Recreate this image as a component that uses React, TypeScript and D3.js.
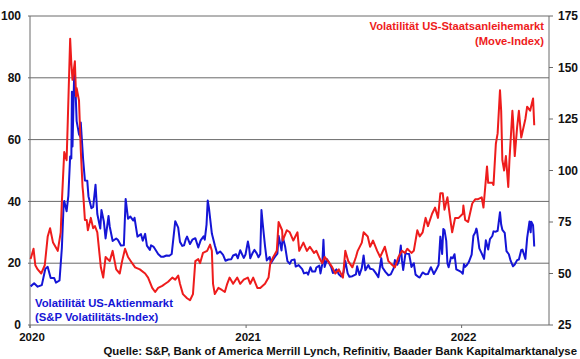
import React from "react";
import * as d3 from "d3";

// VIX (left axis)
const vixData: [string, number][] = [
  ["2020-01-02", 12.5], ["2020-01-08", 13.5], ["2020-01-14", 12.4], ["2020-01-21", 12.9], ["2020-01-27", 18.2], ["2020-01-31", 18.8],
  ["2020-02-05", 15.2], ["2020-02-11", 15.2], ["2020-02-14", 13.7], ["2020-02-20", 14.4], ["2020-02-24", 25.0], ["2020-02-27", 39.2],
  ["2020-02-28", 40.1], ["2020-03-03", 36.8], ["2020-03-06", 41.9], ["2020-03-09", 54.5], ["2020-03-11", 53.9], ["2020-03-12", 75.5],
  ["2020-03-13", 57.8], ["2020-03-16", 82.7], ["2020-03-17", 75.9], ["2020-03-18", 76.5], ["2020-03-20", 66.0], ["2020-03-24", 61.7],
  ["2020-03-26", 61.0], ["2020-03-27", 65.5], ["2020-03-31", 53.5], ["2020-04-03", 46.8], ["2020-04-07", 46.7], ["2020-04-09", 41.7],
  ["2020-04-14", 37.8], ["2020-04-17", 38.2], ["2020-04-21", 45.4], ["2020-04-24", 35.9], ["2020-04-29", 31.2], ["2020-05-01", 37.2],
  ["2020-05-05", 33.6], ["2020-05-08", 28.0], ["2020-05-13", 35.3], ["2020-05-15", 31.9], ["2020-05-20", 27.2], ["2020-05-26", 28.0],
  ["2020-05-29", 27.5], ["2020-06-03", 25.7], ["2020-06-08", 25.8], ["2020-06-11", 40.8], ["2020-06-15", 34.4], ["2020-06-19", 35.1],
  ["2020-06-24", 33.8], ["2020-06-26", 34.7], ["2020-07-01", 28.6], ["2020-07-07", 29.4], ["2020-07-10", 27.3], ["2020-07-14", 29.5],
  ["2020-07-17", 25.7], ["2020-07-22", 24.3], ["2020-07-24", 25.8], ["2020-07-28", 25.4], ["2020-07-31", 24.5], ["2020-08-05", 23.0],
  ["2020-08-10", 22.1], ["2020-08-14", 22.1], ["2020-08-19", 22.5], ["2020-08-24", 22.4], ["2020-08-28", 23.0], ["2020-09-03", 33.6],
  ["2020-09-08", 31.5], ["2020-09-11", 26.9], ["2020-09-15", 25.6], ["2020-09-18", 25.8], ["2020-09-21", 27.8], ["2020-09-23", 28.6],
  ["2020-09-28", 26.2], ["2020-10-02", 27.6], ["2020-10-07", 28.1], ["2020-10-12", 25.1], ["2020-10-16", 27.4], ["2020-10-21", 28.7],
  ["2020-10-23", 27.6], ["2020-10-26", 32.5], ["2020-10-28", 40.3], ["2020-10-30", 38.0], ["2020-11-04", 29.6], ["2020-11-09", 25.8],
  ["2020-11-13", 23.1], ["2020-11-18", 23.8], ["2020-11-23", 22.7], ["2020-11-27", 20.8], ["2020-12-02", 21.2], ["2020-12-07", 21.3],
  ["2020-12-10", 22.5], ["2020-12-15", 22.9], ["2020-12-18", 21.6], ["2020-12-22", 24.2], ["2020-12-28", 21.7], ["2020-12-31", 22.8],
  ["2021-01-04", 27.0], ["2021-01-06", 25.1], ["2021-01-08", 21.6], ["2021-01-12", 23.3], ["2021-01-15", 24.3], ["2021-01-19", 23.2],
  ["2021-01-22", 21.9], ["2021-01-25", 23.0], ["2021-01-27", 37.2], ["2021-01-29", 33.1], ["2021-02-02", 25.6], ["2021-02-05", 20.9],
  ["2021-02-10", 22.0], ["2021-02-12", 20.0], ["2021-02-17", 21.5], ["2021-02-19", 22.1], ["2021-02-23", 23.1], ["2021-02-25", 28.9],
  ["2021-02-26", 28.0], ["2021-03-02", 24.1], ["2021-03-04", 28.6], ["2021-03-08", 25.5], ["2021-03-12", 20.7], ["2021-03-16", 19.8],
  ["2021-03-19", 21.0], ["2021-03-24", 21.2], ["2021-03-26", 18.9], ["2021-03-31", 19.4], ["2021-04-06", 18.1], ["2021-04-09", 16.7],
  ["2021-04-14", 17.0], ["2021-04-16", 16.3], ["2021-04-20", 18.7], ["2021-04-23", 17.3], ["2021-04-28", 17.3], ["2021-04-30", 18.6],
  ["2021-05-05", 19.2], ["2021-05-07", 16.7], ["2021-05-10", 19.7], ["2021-05-12", 27.6], ["2021-05-14", 18.8], ["2021-05-18", 21.3],
  ["2021-05-21", 20.2], ["2021-05-25", 18.8], ["2021-05-28", 16.8], ["2021-06-03", 18.0], ["2021-06-07", 16.4], ["2021-06-11", 15.7],
  ["2021-06-15", 17.0], ["2021-06-18", 20.7], ["2021-06-22", 16.7], ["2021-06-25", 15.6], ["2021-06-30", 15.8], ["2021-07-06", 16.4],
  ["2021-07-08", 19.0], ["2021-07-12", 16.2], ["2021-07-16", 18.5], ["2021-07-19", 22.5], ["2021-07-22", 17.7], ["2021-07-27", 19.4],
  ["2021-07-30", 18.2], ["2021-08-04", 18.0], ["2021-08-09", 16.7], ["2021-08-13", 15.5], ["2021-08-18", 21.6], ["2021-08-20", 18.6],
  ["2021-08-25", 17.2], ["2021-08-30", 16.1], ["2021-09-03", 16.4], ["2021-09-08", 18.4], ["2021-09-10", 21.0], ["2021-09-14", 19.5],
  ["2021-09-17", 20.8], ["2021-09-20", 25.7], ["2021-09-22", 20.9], ["2021-09-24", 17.8], ["2021-09-28", 23.3], ["2021-09-30", 23.1],
  ["2021-10-04", 23.0], ["2021-10-06", 21.0], ["2021-10-08", 18.8], ["2021-10-12", 20.0], ["2021-10-15", 16.3], ["2021-10-20", 15.5],
  ["2021-10-22", 15.4], ["2021-10-27", 17.0], ["2021-11-01", 16.4], ["2021-11-05", 16.5], ["2021-11-10", 18.7], ["2021-11-15", 16.5],
  ["2021-11-19", 17.9], ["2021-11-23", 19.4], ["2021-11-26", 28.6], ["2021-11-29", 23.0], ["2021-11-30", 27.2], ["2021-12-01", 31.1],
  ["2021-12-03", 30.7], ["2021-12-06", 27.2], ["2021-12-08", 19.9], ["2021-12-10", 18.7], ["2021-12-14", 21.9], ["2021-12-17", 21.6],
  ["2021-12-20", 22.9], ["2021-12-23", 18.0], ["2021-12-28", 17.5], ["2021-12-31", 17.2], ["2022-01-03", 16.6], ["2022-01-05", 19.7],
  ["2022-01-07", 18.8], ["2022-01-10", 19.4], ["2022-01-13", 20.3], ["2022-01-18", 22.8], ["2022-01-21", 28.9], ["2022-01-24", 29.9],
  ["2022-01-26", 31.2], ["2022-01-27", 30.5], ["2022-01-31", 24.8], ["2022-02-04", 23.2], ["2022-02-08", 21.4], ["2022-02-11", 27.4],
  ["2022-02-15", 24.4], ["2022-02-18", 27.8], ["2022-02-22", 28.8], ["2022-02-24", 30.3], ["2022-02-28", 30.2], ["2022-03-03", 30.5],
  ["2022-03-07", 36.5], ["2022-03-09", 32.5], ["2022-03-11", 30.8], ["2022-03-15", 29.8], ["2022-03-18", 23.9], ["2022-03-22", 22.9],
  ["2022-03-25", 20.8], ["2022-03-29", 19.0], ["2022-04-01", 19.6], ["2022-04-05", 21.0], ["2022-04-08", 21.2], ["2022-04-12", 24.3],
  ["2022-04-14", 24.4], ["2022-04-19", 21.4], ["2022-04-22", 28.2], ["2022-04-26", 33.5], ["2022-04-28", 30.0], ["2022-04-29", 33.4],
  ["2022-05-02", 32.3], ["2022-05-03", 29.3], ["2022-05-04", 25.4],
];

// MOVE index (right axis)
const moveData: [string, number][] = [
  ["2020-01-02", 57], ["2020-01-07", 62], ["2020-01-10", 54], ["2020-01-14", 52], ["2020-01-20", 50], ["2020-01-26", 54],
  ["2020-01-31", 68], ["2020-02-04", 72], ["2020-02-09", 65], ["2020-02-17", 61], ["2020-02-22", 70], ["2020-02-24", 85],
  ["2020-02-28", 109], ["2020-03-03", 105], ["2020-03-05", 124], ["2020-03-09", 164], ["2020-03-11", 152], ["2020-03-13", 144],
  ["2020-03-17", 153], ["2020-03-19", 136], ["2020-03-20", 140], ["2020-03-24", 134], ["2020-03-27", 110], ["2020-03-30", 92],
  ["2020-03-31", 89], ["2020-04-03", 76], ["2020-04-06", 76], ["2020-04-08", 71], ["2020-04-13", 77], ["2020-04-17", 72],
  ["2020-04-20", 73], ["2020-04-24", 70], ["2020-04-30", 53], ["2020-05-04", 48], ["2020-05-08", 58], ["2020-05-15", 56],
  ["2020-05-20", 61], ["2020-05-26", 52], ["2020-06-01", 50], ["2020-06-05", 56], ["2020-06-10", 62], ["2020-06-15", 58],
  ["2020-06-22", 55], ["2020-06-27", 53], ["2020-07-05", 52], ["2020-07-14", 50], ["2020-07-19", 48], ["2020-07-26", 43],
  ["2020-07-31", 41], ["2020-08-05", 43], ["2020-08-12", 44], ["2020-08-17", 45], ["2020-08-22", 46], ["2020-08-29", 48],
  ["2020-09-03", 47], ["2020-09-08", 49], ["2020-09-11", 45], ["2020-09-16", 40], ["2020-09-23", 38], ["2020-09-28", 37],
  ["2020-10-03", 40], ["2020-10-07", 56], ["2020-10-12", 57], ["2020-10-15", 55], ["2020-10-20", 60], ["2020-10-27", 61],
  ["2020-11-01", 64], ["2020-11-04", 61], ["2020-11-06", 45], ["2020-11-09", 40], ["2020-11-15", 43], ["2020-11-21", 42],
  ["2020-11-26", 41], ["2020-11-30", 45], ["2020-12-04", 48], ["2020-12-10", 45], ["2020-12-17", 48], ["2020-12-22", 45],
  ["2020-12-28", 47], ["2021-01-04", 48], ["2021-01-08", 45], ["2021-01-13", 48], ["2021-01-20", 43], ["2021-01-25", 43],
  ["2021-02-02", 45], ["2021-02-08", 48], ["2021-02-11", 55], ["2021-02-16", 58], ["2021-02-22", 61], ["2021-02-25", 75],
  ["2021-03-03", 71], ["2021-03-04", 66], ["2021-03-11", 71], ["2021-03-16", 70], ["2021-03-22", 66], ["2021-03-29", 70],
  ["2021-04-01", 61], ["2021-04-08", 65], ["2021-04-14", 61], ["2021-04-19", 63], ["2021-04-26", 60], ["2021-04-30", 61],
  ["2021-05-06", 57], ["2021-05-10", 55], ["2021-05-14", 58], ["2021-05-20", 56], ["2021-05-27", 53], ["2021-06-01", 50],
  ["2021-06-07", 52], ["2021-06-14", 48], ["2021-06-18", 61], ["2021-06-23", 56], ["2021-06-30", 53], ["2021-07-06", 58],
  ["2021-07-09", 61], ["2021-07-16", 65], ["2021-07-19", 70], ["2021-07-26", 68], ["2021-07-30", 63], ["2021-08-04", 66],
  ["2021-08-11", 61], ["2021-08-16", 58], ["2021-08-24", 63], ["2021-08-30", 56], ["2021-09-06", 54], ["2021-09-10", 53],
  ["2021-09-16", 58], ["2021-09-22", 61], ["2021-09-27", 60], ["2021-10-01", 62], ["2021-10-08", 60], ["2021-10-12", 61],
  ["2021-10-18", 71], ["2021-10-22", 68], ["2021-10-27", 70], ["2021-11-01", 77], ["2021-11-05", 73], ["2021-11-12", 79],
  ["2021-11-17", 82], ["2021-11-22", 77], ["2021-11-26", 89], ["2021-11-30", 89], ["2021-12-03", 81], ["2021-12-08", 87],
  ["2021-12-13", 76], ["2021-12-16", 70], ["2021-12-21", 77], ["2021-12-27", 77], ["2022-01-03", 79], ["2022-01-04", 83],
  ["2022-01-07", 76], ["2022-01-12", 75], ["2022-01-19", 84], ["2022-01-24", 86], ["2022-01-28", 86], ["2022-02-04", 87],
  ["2022-02-07", 82], ["2022-02-10", 92], ["2022-02-13", 102], ["2022-02-15", 94], ["2022-02-22", 94], ["2022-02-24", 93],
  ["2022-02-28", 113], ["2022-03-03", 118], ["2022-03-07", 139], ["2022-03-09", 129], ["2022-03-11", 105], ["2022-03-14", 100],
  ["2022-03-17", 107], ["2022-03-21", 92], ["2022-03-23", 105], ["2022-03-28", 129], ["2022-03-29", 125], ["2022-04-01", 107],
  ["2022-04-05", 121], ["2022-04-08", 129], ["2022-04-12", 116], ["2022-04-19", 125], ["2022-04-22", 131], ["2022-04-27", 129],
  ["2022-05-02", 135], ["2022-05-04", 122],
];

const leftTicks = [0, 20, 40, 60, 80, 100];
const rightTicks = [25, 50, 75, 100, 125, 150, 175];
const yearTicks = ["2020-01-01", "2021-01-01", "2022-01-01"];
const legendMove = ["Volatilität US-Staatsanleihemarkt", "(Move-Index)"];
const legendVix = ["Volatilität US-Aktienmarkt", "(S&P Volatilitäts-Index)"];
const sourceText = "Quelle: S&P, Bank of America Merrill Lynch, Refinitiv, Baader Bank Kapitalmarktanalyse";

const parse = d3.timeParse("%Y-%m-%d");

export default function App() {
  const L = 30, R = 549, T = 16, B = 325;
  const x = d3.scaleTime().domain([parse("2020-01-01")!, parse("2022-05-29")!]).range([L, R]);
  const yL = d3.scaleLinear().domain([0, 100]).range([B, T]);
  const yR = d3.scaleLinear().domain([25, 175]).range([B, T]);

  const vixLine = d3.line<[string, number]>().x(d => x(parse(d[0])!)).y(d => yL(d[1]));
  const moveLine = d3.line<[string, number]>().x(d => x(parse(d[0])!)).y(d => yR(d[1]));

  const font = "'Liberation Sans', Arial, sans-serif";
  const grid = "#6a6a6a";
  const red = "#ee1c1c";
  const blue = "#1515d6";

  return (
    <svg width={580} height={359} style={{ position: "absolute", left: 0, top: 0, background: "#fff" }} fontFamily={font}>
      {leftTicks.filter(t => t > 0).map(t => (
        <line key={t} x1={L - 2} x2={R} y1={yL(t)} y2={yL(t)} stroke={grid} strokeWidth={1} />
      ))}
      <line x1={L} x2={L} y1={T} y2={B + 3} stroke={grid} strokeWidth={1} />
      <line x1={L - 2} x2={R} y1={B} y2={B} stroke={grid} strokeWidth={1} />
      <line x1={R} x2={R} y1={T} y2={B} stroke={grid} strokeWidth={1} />
      {rightTicks.map(t => (
        <line key={t} x1={R} x2={R + 4} y1={yR(t)} y2={yR(t)} stroke={grid} strokeWidth={1} />
      ))}
      {yearTicks.map(d => (
        <line key={d} x1={x(parse(d)!)} x2={x(parse(d)!)} y1={B} y2={B + 3} stroke={grid} strokeWidth={1} />
      ))}
      <path d={vixLine(vixData) || ""} fill="none" stroke={blue} strokeWidth={2} strokeLinejoin="round" />
      <path d={moveLine(moveData) || ""} fill="none" stroke={red} strokeWidth={2} strokeLinejoin="round" />
      {leftTicks.map(t => (
        <text key={t} x={21} y={yL(t)} dy="0.35em" textAnchor="end" fontSize={12} fontWeight="bold" fill="#111">{t}</text>
      ))}
      {rightTicks.map(t => (
        <text key={t} x={558} y={yR(t)} dy="0.35em" textAnchor="start" fontSize={12} fontWeight="bold" fill="#111">{t}</text>
      ))}
      {yearTicks.map(d => (
        <text key={d} x={x(parse(d)!) + 2} y={341} textAnchor="middle" fontSize={11.5} fontWeight="bold" fill="#111">{d.slice(0, 4)}</text>
      ))}
      {legendMove.map((s, i) => (
        <text key={s} x={544} y={30 + i * 15} textAnchor="end" fontSize={11.2} fontWeight="bold" fill={red}>{s}</text>
      ))}
      {legendVix.map((s, i) => (
        <text key={s} x={35} y={307 + i * 14} textAnchor="start" fontSize={11.3} fontWeight="bold" fill={blue}>{s}</text>
      ))}
      <text x={577} y={355} textAnchor="end" fontSize={11.4} fontWeight="bold" fill="#111">{sourceText}</text>
    </svg>
  );
}
